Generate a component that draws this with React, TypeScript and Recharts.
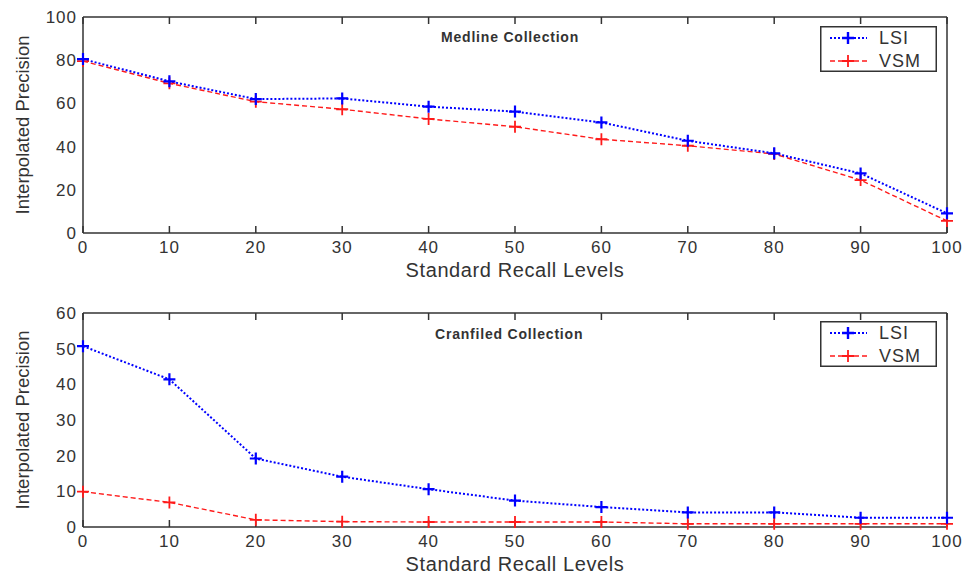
import { LineChart, Line, XAxis, YAxis, Legend } from 'recharts';

const recallLevels = [0, 10, 20, 30, 40, 50, 60, 70, 80, 90, 100];
const medlineLsi = [80.5, 70.2, 62, 62.3, 58.5, 56.2, 51.2, 42.7, 36.9, 27.6, 9.1];
const medlineVsm = [79.6, 69.3, 60.8, 57.3, 52.8, 49.2, 43.4, 40.4, 36.6, 24.5, 5.6];
const cranfieldLsi = [50.7, 41.4, 19.2, 14.1, 10.6, 7.4, 5.6, 4.1, 4.1, 2.6, 2.6];
const cranfieldVsm = [9.9, 6.9, 2.0, 1.5, 1.4, 1.4, 1.4, 0.9, 0.9, 0.9, 0.9];
const medlineYTicks = [0, 20, 40, 60, 80, 100];
const cranfieldYTicks = [0, 10, 20, 30, 40, 50, 60];

const FONT = '"Liberation Sans", Arial, sans-serif';
const INK = '#333';

const seriesStyle: Record<string, { color: string; dash: string; width: number }> = {
  LSI: { color: '#0000ff', dash: '2 2', width: 2 },
  VSM: { color: '#ff1a1a', dash: '5 3', width: 1.4 },
};

const plusDot = (color: string, w: number) => (props: any) => {
  const { cx, cy, index } = props;
  if (cx == null || cy == null) return <g key={index} />;
  return (
    <path
      key={index}
      d={`M${cx - 6},${cy}H${cx + 6}M${cx},${cy - 6}V${cy + 6}`}
      stroke={color}
      strokeWidth={w}
      fill="none"
    />
  );
};

// tick marks only, no label
const noLabel = () => <g />;

const LegendBox = ({ payload }: any) => (
  <svg width={117} height={46} style={{ display: 'block' }}>
    <rect x={0.75} y={0.75} width={115.5} height={44.5} fill="#fff" stroke={INK} strokeWidth={1.5} />
    {(payload || []).map((entry: any, i: number) => {
      const s = seriesStyle[entry.value] || { color: entry.color, dash: '', width: 1.5 };
      const y = i === 0 ? 12 : 35;
      return (
        <g key={entry.value}>
          <line x1={10} x2={47} y1={y} y2={y} stroke={s.color} strokeWidth={s.width} strokeDasharray={s.dash} />
          <path d={`M22,${y}H34M28,${y - 6}V${y + 6}`} stroke={s.color} strokeWidth={s.width + 0.4} />
          <text x={59} y={y} dominantBaseline="central" fontFamily={FONT} fontSize={18} letterSpacing={1} fill={INK}>
            {entry.value}
          </text>
        </g>
      );
    })}
  </svg>
);

const YTitle = ({ viewBox }: any) => {
  if (!viewBox) return null;
  const cx = 22;
  const cy = viewBox.y + viewBox.height / 2;
  return (
    <text
      x={cx}
      y={cy}
      transform={`rotate(-90 ${cx} ${cy})`}
      textAnchor="middle"
      dominantBaseline="central"
      fontFamily={FONT}
      fontSize={18.5}
      fill={INK}
    >
      Interpolated Precision
    </text>
  );
};

const XTitle = ({ viewBox }: any) => {
  if (!viewBox) return null;
  return (
    <text
      x={viewBox.x + viewBox.width / 2}
      y={viewBox.y + 37}
      textAnchor="middle"
      dominantBaseline="central"
      fontFamily={FONT}
      fontSize={20}
      letterSpacing={0.6}
      fill={INK}
    >
      Standard Recall Levels
    </text>
  );
};

interface PanelProps {
  lsi: number[];
  vsm: number[];
  yMax: number;
  yTicks: number[];
  height: number;
  top: number;
  xAxisHeight: number;
  legendTop: number;
}

const Panel = ({ lsi, vsm, yMax, yTicks, height, top, xAxisHeight, legendTop }: PanelProps) => {
  const data = recallLevels.map((level, i) => ({ level, LSI: lsi[i], VSM: vsm[i] }));
  const tickStyle = { fontFamily: FONT, fontSize: 17, fill: INK, letterSpacing: 1 };
  const line = { stroke: INK, strokeWidth: 1.5 };
  return (
    <LineChart width={964} height={height} data={data} margin={{ top, right: 17, bottom: 0, left: 0 }}>
      <XAxis
        dataKey="level"
        type="number"
        domain={[0, 100]}
        ticks={recallLevels}
        height={xAxisHeight}
        tickLine={false}
        tickSize={0}
        tickMargin={8}
        axisLine={line}
        tick={tickStyle}
        label={<XTitle />}
      />
      <XAxis
        xAxisId="bottomTicks"
        dataKey="level"
        type="number"
        domain={[0, 100]}
        ticks={recallLevels}
        orientation="bottom"
        mirror
        height={10}
        tick={noLabel}
        tickSize={7}
        tickLine={line}
        axisLine={false}
      />
      <XAxis
        xAxisId="top"
        dataKey="level"
        type="number"
        domain={[0, 100]}
        ticks={recallLevels}
        orientation="top"
        mirror
        height={10}
        tick={noLabel}
        tickSize={7}
        tickLine={line}
        axisLine={line}
      />
      <YAxis
        type="number"
        domain={[0, yMax]}
        ticks={yTicks}
        width={83}
        tickLine={false}
        tickSize={0}
        tickMargin={6}
        axisLine={line}
        tick={tickStyle}
        label={<YTitle />}
      />
      <YAxis
        yAxisId="leftTicks"
        type="number"
        domain={[0, yMax]}
        ticks={yTicks}
        orientation="left"
        mirror
        width={10}
        tick={noLabel}
        tickSize={7}
        tickLine={line}
        axisLine={false}
      />
      <YAxis
        yAxisId="right"
        type="number"
        domain={[0, yMax]}
        ticks={yTicks}
        orientation="right"
        mirror
        width={10}
        tick={noLabel}
        tickSize={7}
        tickLine={line}
        axisLine={line}
      />
      <Line
        dataKey="VSM"
        name="VSM"
        stroke={seriesStyle.VSM.color}
        strokeWidth={seriesStyle.VSM.width}
        strokeDasharray={seriesStyle.VSM.dash}
        dot={plusDot(seriesStyle.VSM.color, 1.8)}
        activeDot={false}
        isAnimationActive={false}
        legendType="line"
      />
      <Line
        dataKey="LSI"
        name="LSI"
        stroke={seriesStyle.LSI.color}
        strokeWidth={seriesStyle.LSI.width}
        strokeDasharray={seriesStyle.LSI.dash}
        dot={plusDot(seriesStyle.LSI.color, 2.2)}
        activeDot={false}
        isAnimationActive={false}
        legendType="line"
      />
      <Legend
        layout="vertical"
        align="center"
        verticalAlign="middle"
        itemSorter={(item: any) => (item.value === 'LSI' ? 0 : 1)}
        content={<LegendBox />}
        wrapperStyle={{ position: 'absolute', left: 820, top: legendTop, width: 117, height: 46 }}
      />
    </LineChart>
  );
};

const titleStyle = {
  position: 'absolute' as const,
  fontFamily: FONT,
  fontSize: 14,
  letterSpacing: 0.8,
  fontWeight: 'bold' as const,
  color: INK,
  lineHeight: '14px',
  whiteSpace: 'nowrap' as const,
};

export default function App() {
  return (
    <div style={{ position: 'absolute', left: 0, top: 0, width: 964, height: 576, background: '#fff' }}>
      <div style={{ position: 'absolute', left: 0, top: 0 }}>
        <Panel
          lsi={medlineLsi}
          vsm={medlineVsm}
          yMax={100}
          yTicks={medlineYTicks}
          height={290}
          top={17}
          xAxisHeight={57}
          legendTop={26}
        />
        <div style={{ ...titleStyle, left: 441, top: 30 }}>Medline Collection</div>
      </div>
      <div style={{ position: 'absolute', left: 0, top: 290 }}>
        <Panel
          lsi={cranfieldLsi}
          vsm={cranfieldVsm}
          yMax={60}
          yTicks={cranfieldYTicks}
          height={286}
          top={23}
          xAxisHeight={49}
          legendTop={31}
        />
        <div style={{ ...titleStyle, left: 435, top: 37 }}>Cranfiled Collection</div>
      </div>
    </div>
  );
}
